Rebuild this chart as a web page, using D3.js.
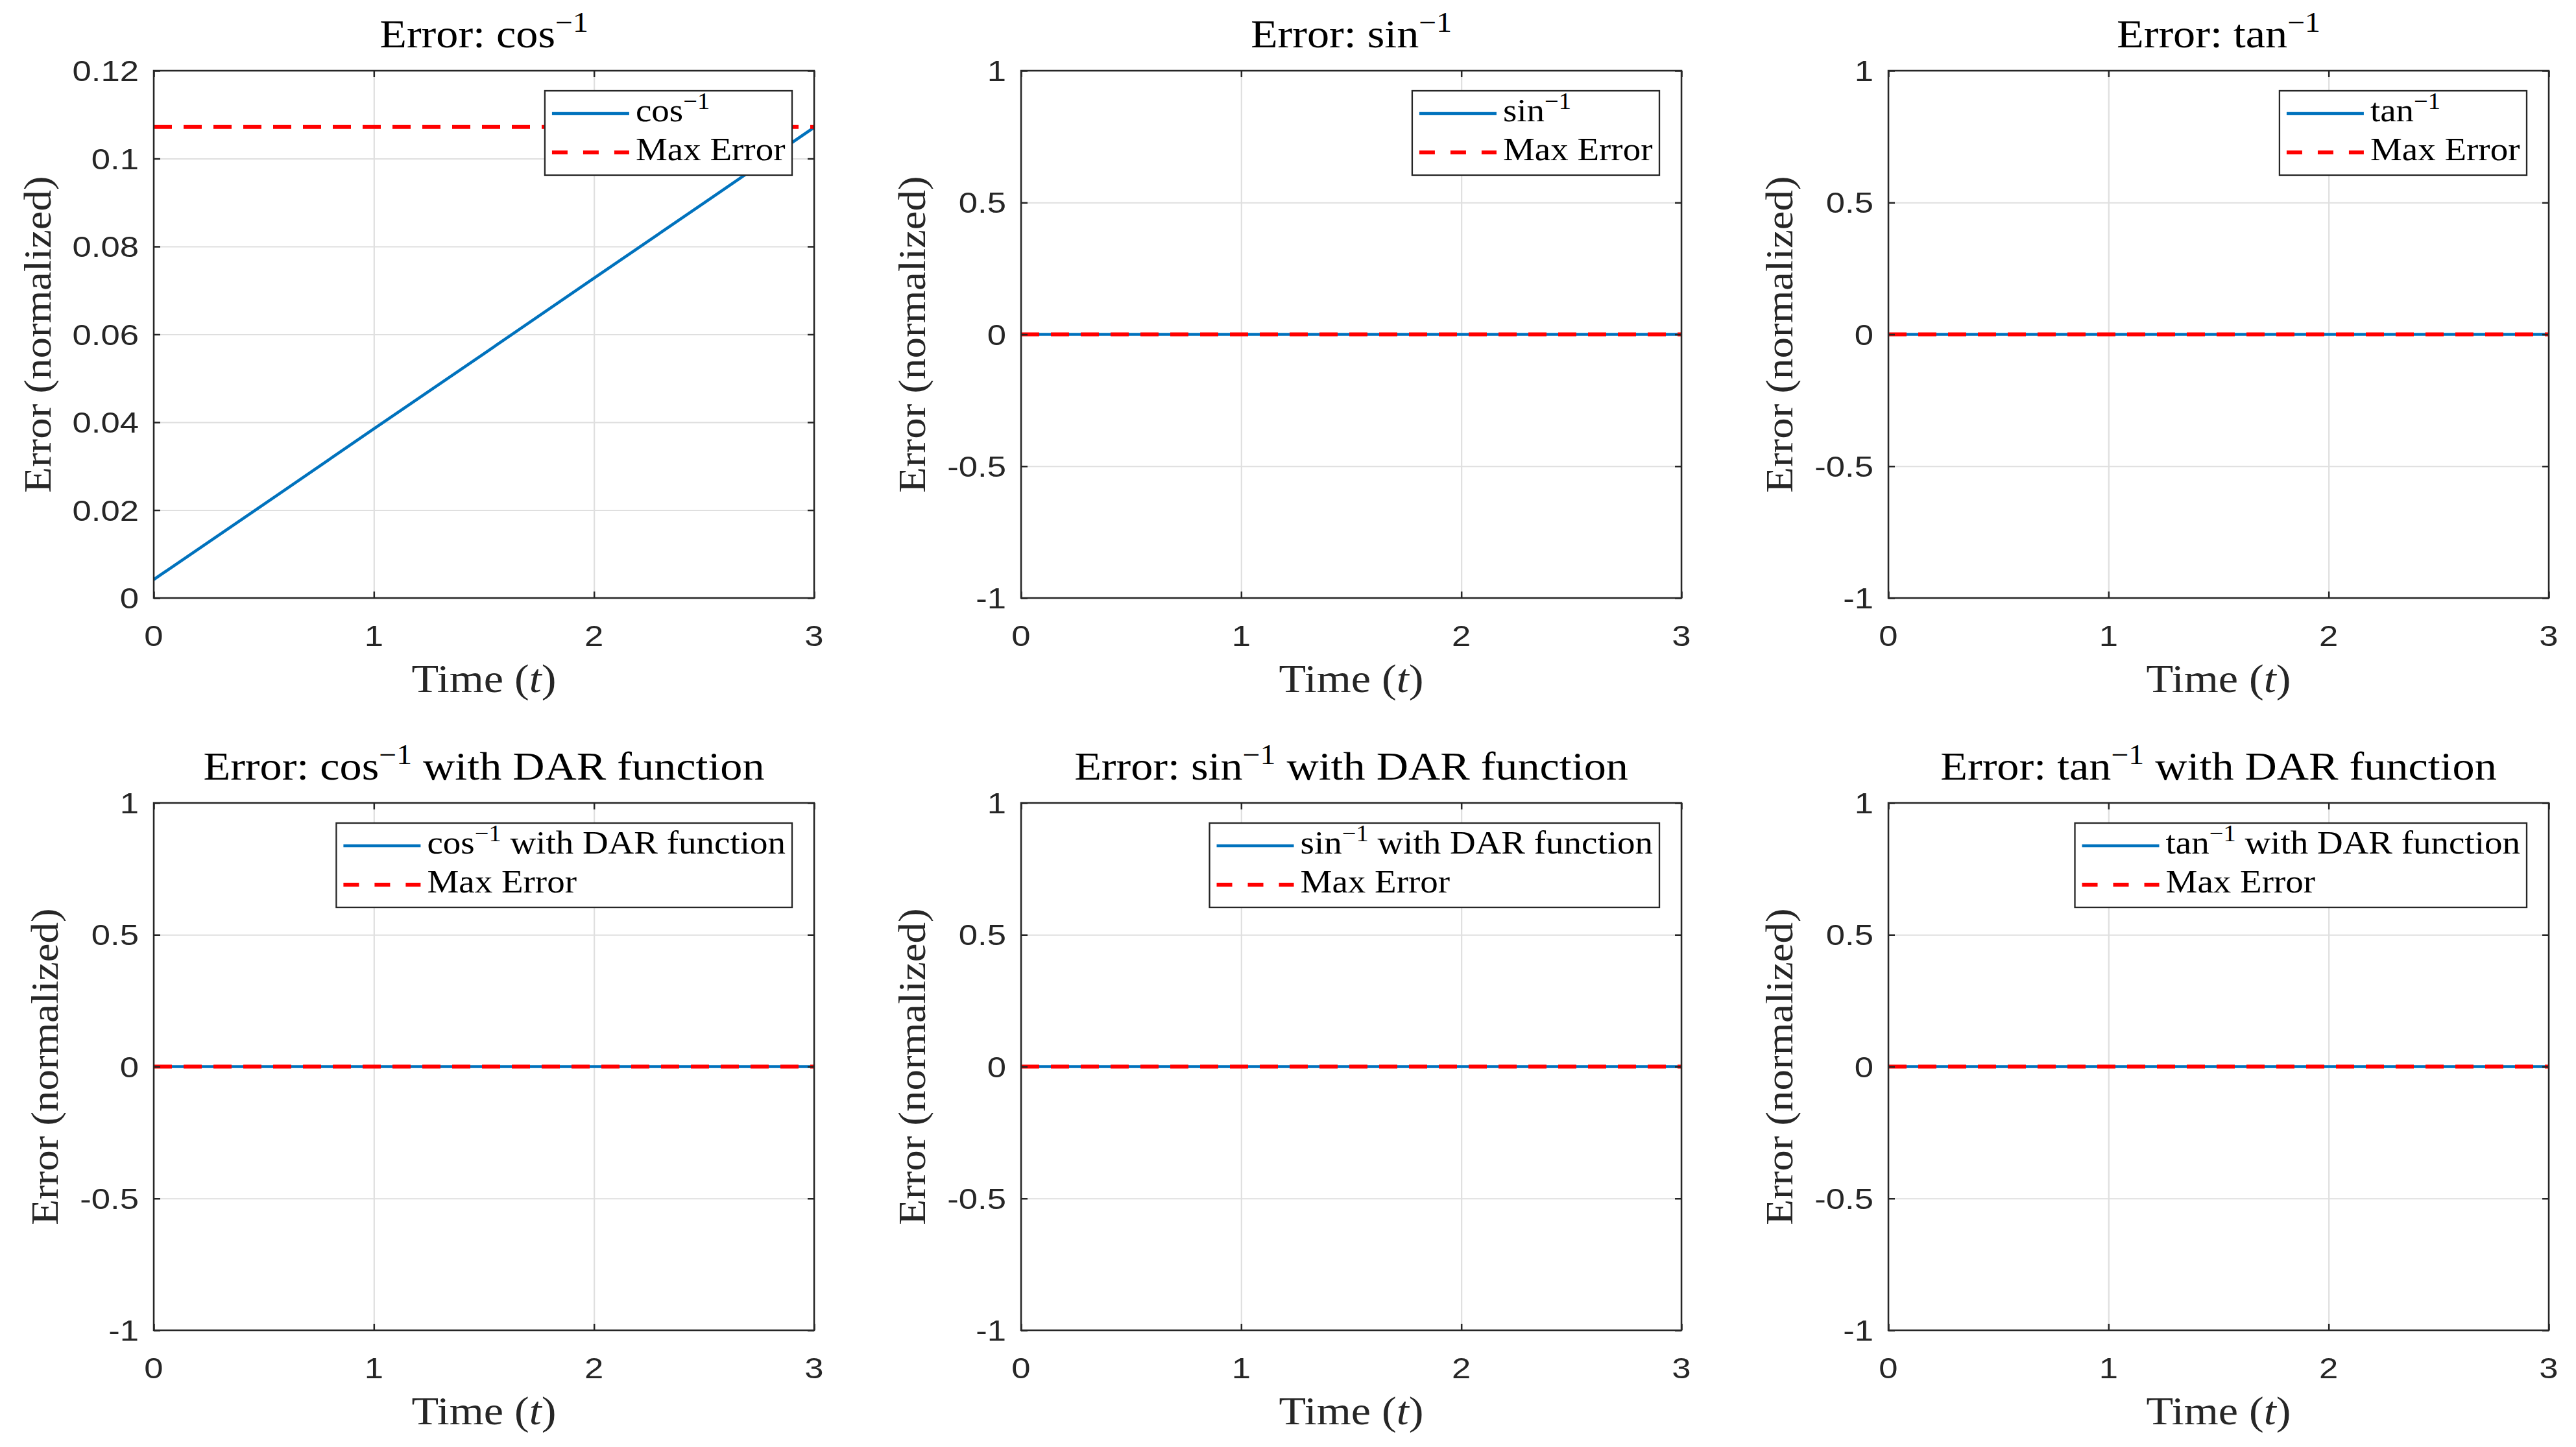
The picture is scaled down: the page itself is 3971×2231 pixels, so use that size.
<!DOCTYPE html>
<html>
<head>
<meta charset="utf-8">
<script src="https://cdn.jsdelivr.net/npm/d3@7"></script>
<style>
  body { margin: 0; background: #fff; }
  text { white-space: pre; }
</style>
</head>
<body>
<script>
const W = 3971, H = 2231;

// values
const timeCos = [0, 0.5, 1, 1.5, 2, 2.5, 3];
const errCos = [0.0042, 0.0213, 0.0385, 0.0556, 0.0728, 0.0899, 0.1071];
const maxErrCos = 0.1072;

const timeFlat = [0, 3];
const errSin = [0, 0];
const errTan = [0, 0];
const errCosDar = [0, 0];
const errSinDar = [0, 0];
const errTanDar = [0, 0];
const maxErrFlat = 0;

const xTicks = [0, 1, 2, 3];
const xTickLabels = ["0", "1", "2", "3"];
const yTicksCos = [0, 0.02, 0.04, 0.06, 0.08, 0.1, 0.12];
const yTickLabelsCos = ["0", "0.02", "0.04", "0.06", "0.08", "0.1", "0.12"];
const yTicksUnit = [-1, -0.5, 0, 0.5, 1];
const yTickLabelsUnit = ["-1", "-0.5", "0", "0.5", "1"];

const funcNames = ["cos", "sin", "tan"];

const panels = [
  {fn: "cos", dar: false, t: timeCos, e: errCos, maxErr: maxErrCos, yDom: [0, 0.12], yTicks: yTicksCos, yLabels: yTickLabelsCos},
  {fn: "sin", dar: false, t: timeFlat, e: errSin, maxErr: maxErrFlat, yDom: [-1, 1], yTicks: yTicksUnit, yLabels: yTickLabelsUnit},
  {fn: "tan", dar: false, t: timeFlat, e: errTan, maxErr: maxErrFlat, yDom: [-1, 1], yTicks: yTicksUnit, yLabels: yTickLabelsUnit},
  {fn: "cos", dar: true, t: timeFlat, e: errCosDar, maxErr: maxErrFlat, yDom: [-1, 1], yTicks: yTicksUnit, yLabels: yTickLabelsUnit},
  {fn: "sin", dar: true, t: timeFlat, e: errSinDar, maxErr: maxErrFlat, yDom: [-1, 1], yTicks: yTicksUnit, yLabels: yTickLabelsUnit},
  {fn: "tan", dar: true, t: timeFlat, e: errTanDar, maxErr: maxErrFlat, yDom: [-1, 1], yTicks: yTicksUnit, yLabels: yTickLabelsUnit}
];

// layout
let colLeft = [237, 1574, 2911],
    rowTop = [109, 1238],
    pw = 1018,
    ph = 813;

const SERIF = "'Liberation Serif', 'Times New Roman', serif",
      SANS = "'Liberation Sans', Arial, sans-serif",
      SX_SERIF = 1.1,
      SX_SANS = 1.17,
      DARK = "#262626",
      BLUE = "#0072BD",
      RED = "#FF0000";

let svg = d3.select("body").append("svg")
    .attr("width", W)
    .attr("height", H)
    .attr("viewBox", "0 0 " + W + " " + H);

svg.append("rect").attr("width", W).attr("height", H).attr("fill", "#fff");

// text with optional superscript / italic parts, stretched a little sideways like the original
function label(parent, x, y, parts, size, o) {
  let tr = "translate(" + x + "," + y + ")";
  if (o.rotate) tr += " rotate(" + o.rotate + ")";
  tr += " scale(" + o.sx + ",1)";
  let g = parent.append("g").attr("transform", tr);
  let t = g.append("text")
      .attr("text-anchor", o.anchor || "middle")
      .attr("font-family", o.family)
      .attr("font-size", size)
      .attr("fill", o.fill || DARK);
  let shift = 0;
  parts.forEach(function (p) {
    let s = t.append("tspan").text(p.t);
    let dy;
    if (p.sup) {
      s.attr("font-size", size * 0.7);
      dy = -0.38 * size - shift;
      shift = -0.38 * size;
    } else {
      dy = -shift;
      shift = 0;
    }
    if (dy) s.attr("dy", dy);
    if (p.it) s.attr("font-style", "italic");
  });
  return t;
}

function fnParts(p) {
  let parts = [{t: p.fn}, {t: "\u22121", sup: true}];
  if (p.dar) parts.push({t: " with DAR function"});
  return parts;
}

panels.forEach(function (p, i) {
  let left = colLeft[i % 3],
      top = rowTop[Math.floor(i / 3)];

  let x = d3.scaleLinear().domain([0, 3]).range([0, pw]);
  let y = d3.scaleLinear().domain(p.yDom).range([ph, 0]);

  let g = svg.append("g").attr("transform", "translate(" + left + "," + top + ")");

  g.append("rect").attr("width", pw).attr("height", ph).attr("fill", "#fff");

  // grid
  let gx = g.append("g").attr("transform", "translate(0," + ph + ")")
      .call(d3.axisBottom(x).tickValues(xTicks).tickSize(-ph).tickFormat(""));
  let gy = g.append("g")
      .call(d3.axisLeft(y).tickValues(p.yTicks).tickSize(-pw).tickFormat(""));
  [gx, gy].forEach(function (a) {
    a.select(".domain").remove();
    a.selectAll("line").attr("stroke", "#dfdfdf").attr("stroke-width", 2.2);
  });

  // data
  let clipId = "clip" + i;
  g.append("clipPath").attr("id", clipId)
      .append("rect").attr("width", pw).attr("height", ph);
  let plot = g.append("g").attr("clip-path", "url(#" + clipId + ")");

  let line = d3.line()
      .x(function (d) { return x(d[0]); })
      .y(function (d) { return y(d[1]); });

  plot.append("path")
      .datum(p.t.map(function (t, k) { return [t, p.e[k]]; }))
      .attr("d", line)
      .attr("fill", "none")
      .attr("stroke", BLUE)
      .attr("stroke-width", 4.5);

  plot.append("path")
      .datum([[0, p.maxErr], [3, p.maxErr]])
      .attr("d", line)
      .attr("fill", "none")
      .attr("stroke", RED)
      .attr("stroke-width", 6)
      .attr("stroke-dasharray", "28,18");

  // ticks on all four sides, pointing in
  let axes = [
    [d3.axisBottom(x).tickValues(xTicks), "translate(0," + ph + ")"],
    [d3.axisTop(x).tickValues(xTicks), "translate(0,0)"],
    [d3.axisLeft(y).tickValues(p.yTicks), "translate(0,0)"],
    [d3.axisRight(y).tickValues(p.yTicks), "translate(" + pw + ",0)"]
  ];
  axes.forEach(function (a) {
    let ag = g.append("g").attr("transform", a[1])
        .call(a[0].tickSizeInner(-10).tickSizeOuter(0).tickFormat(""));
    ag.select(".domain").remove();
    ag.selectAll("line").attr("stroke", DARK).attr("stroke-width", 2.5);
  });

  g.append("rect")
      .attr("width", pw).attr("height", ph)
      .attr("fill", "none")
      .attr("stroke", DARK)
      .attr("stroke-width", 2.5);

  // tick labels
  xTicks.forEach(function (v, k) {
    label(g, x(v), ph + 74, [{t: xTickLabels[k]}], 45,
        {sx: SX_SANS, family: SANS});
  });
  let maxW = 0;
  p.yTicks.forEach(function (v, k) {
    let t = label(g, -23, y(v) + 16, [{t: p.yLabels[k]}], 45,
        {sx: SX_SANS, family: SANS, anchor: "end"});
    maxW = Math.max(maxW, t.node().getBBox().width * SX_SANS);
  });

  // axis labels and title
  label(g, pw / 2, ph + 145, [{t: "Time ("}, {t: "t", it: true}, {t: ")"}], 62,
      {sx: SX_SERIF, family: SERIF});
  label(g, -23 - maxW - 34, ph / 2, [{t: "Error (normalized)"}], 59,
      {sx: SX_SERIF, family: SERIF, rotate: -90});
  label(g, pw / 2, -36, [{t: "Error: "}].concat(fnParts(p)), 62,
      {sx: SX_SERIF, family: SERIF, fill: "#000"});

  // legend
  let lg = g.append("g");
  let box = lg.append("rect")
      .attr("fill", "#fff")
      .attr("stroke", DARK)
      .attr("stroke-width", 2.3)
      .attr("height", 130);
  let entries = [
    {parts: fnParts(p), color: BLUE, dash: null, w: 4.5},
    {parts: [{t: "Max Error"}], color: RED, dash: "24,24", w: 6}
  ];
  let textW = 0;
  entries.forEach(function (en, k) {
    let ly = 35 + k * 60;
    lg.append("line")
        .attr("x1", 11).attr("x2", 130)
        .attr("y1", ly).attr("y2", ly)
        .attr("stroke", en.color)
        .attr("stroke-width", en.w)
        .attr("stroke-dasharray", en.dash);
    let t = label(lg, 140, ly + 12, en.parts, 50,
        {sx: SX_SERIF, family: SERIF, anchor: "start", fill: "#000"});
    textW = Math.max(textW, t.node().getBBox().width * SX_SERIF);
  });
  let lw = 140 + textW + 10;
  box.attr("width", lw);
  lg.attr("transform", "translate(" + (pw - 34 - lw) + ",31)");
});
</script>
</body>
</html>
